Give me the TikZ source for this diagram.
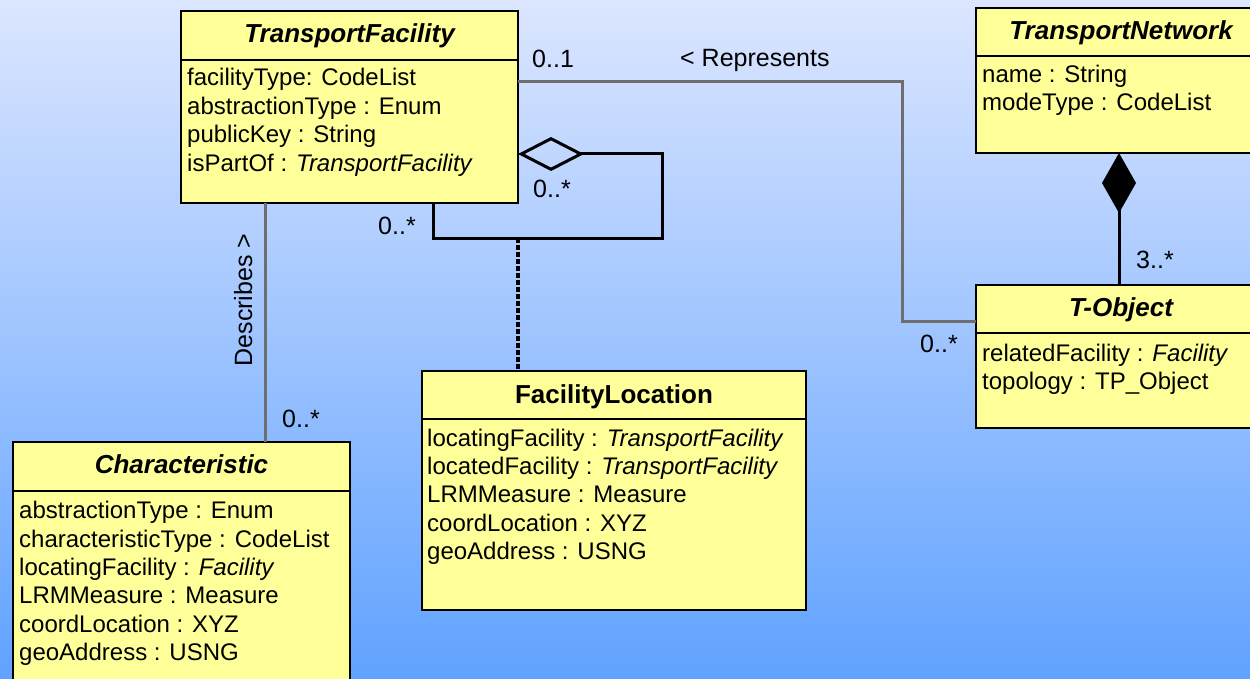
\documentclass[tikz,border=0pt]{standalone}
\usepackage{fontspec}
\setmainfont{Liberation Sans}
\usetikzlibrary{arrows.meta}

\definecolor{bgtop}{HTML}{DCE6FF}
\definecolor{bgbottom}{HTML}{60A2FF}
\definecolor{classfill}{HTML}{FFFF99}
\definecolor{linkgray}{HTML}{6E6E6E}

\tikzset{
  cls/.style={draw=black, fill=classfill, line width=2pt, rectangle,
    inner sep=0pt, outer sep=0pt, anchor=north west},
  sepline/.style={draw=black, line width=2pt},
  ctitle/.style={anchor=base, inner sep=0pt,
    font=\fontsize{26}{30}\selectfont\bfseries},
  attr/.style={anchor=base west, inner sep=0pt,
    font=\fontsize{24}{29}\selectfont},
  mult/.style={anchor=base west, inner sep=0pt,
    font=\fontsize{25}{29}\selectfont},
  assoc/.style={draw=linkgray, line width=3pt},
  aggr/.style={draw=black, line width=3pt, line join=miter,
    {Diamond[open, length=66pt, width=34pt, line width=3pt]}-},
  comp/.style={draw=black, line width=3pt,
    {Diamond[length=60pt, width=34pt]}-},
  dotline/.style={draw=black, line width=4pt, dash pattern=on 5pt off 2pt}
}

\begin{document}
\begin{tikzpicture}[x=1pt, y=-1pt]
  % page and background
  \useasboundingbox (0,0) rectangle (1250,679);
  \shade[top color=bgtop, bottom color=bgbottom] (0,0) rectangle (1250,679);
  \clip (0,0) rectangle (1250,679);

  % ---------- class boxes ----------
  \node[cls, minimum width=337pt, minimum height=192pt] (tf) at (181,11) {};
  \draw[sepline] (tf.west |- 0,60) -- (tf.east |- 0,60);
  \node[ctitle] (tft) at (349.5,43) {\itshape TransportFacility};
  \node[attr] (tfa1) at (187,86)  {facilityType: CodeList};
  \node[attr] (tfa2) at (187,114.5) {abstractionType : Enum};
  \node[attr] (tfa3) at (187,143) {publicKey : String};
  \node[attr] (tfa4) at (187,172) {isPartOf : \textit{TransportFacility}};

  \node[cls, minimum width=290pt, minimum height=145pt] (tn) at (976,8) {};
  \draw[sepline] (tn.west |- 0,56) -- (tn.east |- 0,56);
  \node[ctitle] (tnt) at (1121,40) {\itshape TransportNetwork};
  \node[attr] (tna1) at (982,83)  {name : String};
  \node[attr] (tna2) at (982,111) {modeType : CodeList};

  \node[cls, minimum width=290pt, minimum height=143pt] (tobj) at (976,285) {};
  \draw[sepline] (tobj.west |- 0,333) -- (tobj.east |- 0,333);
  \node[ctitle] (tobjt) at (1121,316) {\itshape T-Object};
  \node[attr] (toa1) at (982,361) {relatedFacility : \textit{Facility}};
  \node[attr] (toa2) at (982,389) {topology : TP\_Object};

  \node[cls, minimum width=337pt, minimum height=258pt] (char) at (13,442) {};
  \draw[sepline] (char.west |- 0,491) -- (char.east |- 0,491);
  \node[ctitle] (chart) at (181.5,473) {\itshape Characteristic};
  \node[attr] (cha1) at (19,518) {abstractionType : Enum};
  \node[attr] (cha2) at (19,547) {characteristicType : CodeList};
  \node[attr] (cha3) at (19,575) {locatingFacility : \textit{Facility}};
  \node[attr] (cha4) at (19,603) {LRMMeasure : Measure};
  \node[attr] (cha5) at (19,632) {coordLocation : XYZ};
  \node[attr] (cha6) at (19,660) {geoAddress : USNG};

  \node[cls, minimum width=384pt, minimum height=239pt] (fl) at (422,371) {};
  \draw[sepline] (fl.west |- 0,419) -- (fl.east |- 0,419);
  \node[ctitle] (flt) at (614,403) {FacilityLocation};
  \node[attr] (fla1) at (427,446) {locatingFacility : \textit{TransportFacility}};
  \node[attr] (fla2) at (427,474) {locatedFacility : \textit{TransportFacility}};
  \node[attr] (fla3) at (427,502) {LRMMeasure : Measure};
  \node[attr] (fla4) at (427,531) {coordLocation : XYZ};
  \node[attr] (fla5) at (427,559) {geoAddress : USNG};

  % ---------- connectors ----------
  % Represents association
  \draw[assoc] (tf.east |- 0,82) -- (902,82) -- (902,321) -- (tobj.west |- 0,321);
  \node[mult] (m01) at (532,68) {0..1};
  \node[mult] (rep) at (680,67) {< Represents};
  \node[mult] (m0s1) at (920,352) {0..*};

  % Describes association
  \draw[assoc] (tf.south -| 265,0) -- (char.north -| 265,0);
  \node[mult, anchor=base, rotate=90] (desc) at (252,300) {Describes >};
  \node[mult] (m0s2) at (282,427) {0..*};

  % composition TransportNetwork <>-- T-Object
  \draw[comp] (tn.south -| 1119,0) -- (tobj.north -| 1119,0);
  \node[mult] (m3s) at (1136,269) {3..*};

  % self aggregation isPartOf
  \coordinate (aggmid) at (517.7,238);
  \draw[aggr] (tf.east |- 0,154) -- (662,154) -- (662,238) -- (433,238) -- (tf.south -| 433,0);
  \node[mult] (m0s3) at (533,198) {0..*};
  \node[mult] (m0s4) at (378,235) {0..*};

  % association class link
  \draw[dotline] (aggmid) -- (fl.north -| aggmid);
\end{tikzpicture}
\end{document}
